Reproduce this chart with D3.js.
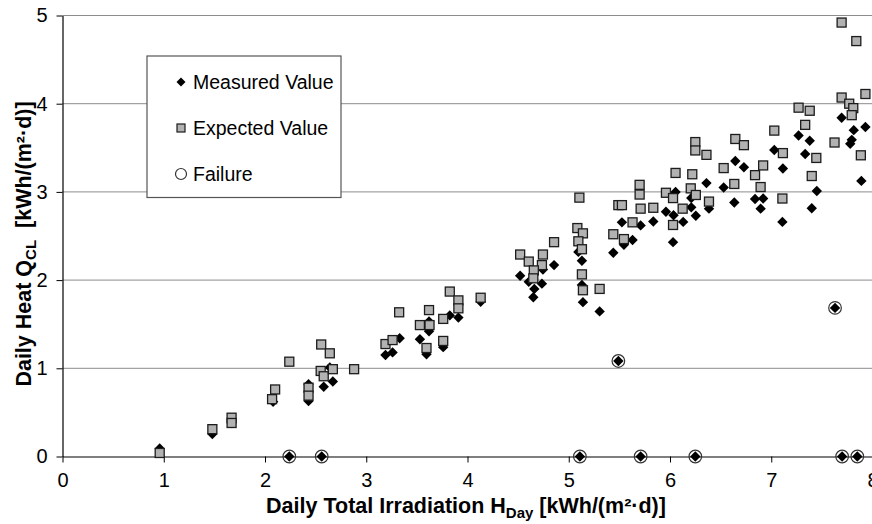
<!DOCTYPE html>
<html>
<head>
<meta charset="utf-8">
<script src="https://cdn.jsdelivr.net/npm/d3@7"></script>
<style>
  body { margin: 0; background: #fff; }
  text { font-family: "Liberation Sans", Arial, sans-serif; }
</style>
</head>
<body>
<script>
// values: [irradiation, daily heat]
const measured = [
  [0.96, 0.09], [1.48, 0.255], [1.67, 0.38], [2.08, 0.62], [2.43, 0.82], [2.43, 0.63],
  [2.58, 0.79], [2.67, 0.85], [2.64, 1.01], [3.19, 1.15], [3.26, 1.18], [3.33, 1.34],
  [3.53, 1.33], [3.62, 1.53], [3.62, 1.42], [3.595, 1.16], [3.76, 1.24], [3.825, 1.60],
  [3.91, 1.575], [4.13, 1.755], [4.52, 2.05], [4.605, 1.98], [4.66, 1.90], [4.65, 1.805],
  [4.735, 1.96], [4.745, 2.12], [4.855, 2.17], [5.095, 2.32], [5.13, 2.22], [5.13, 1.945],
  [5.14, 1.75], [5.305, 1.645], [5.44, 2.31], [5.525, 2.655], [5.545, 2.40], [5.63, 2.455],
  [5.71, 2.62], [5.835, 2.665], [5.96, 2.775], [6.055, 3.0], [6.035, 2.735], [6.03, 2.43],
  [6.13, 2.66], [6.21, 2.93], [6.21, 2.825], [6.255, 2.73], [6.36, 3.10], [6.385, 2.81],
  [6.53, 3.05], [6.635, 2.88], [6.645, 3.35], [6.73, 3.28], [6.84, 2.92], [6.92, 2.925],
  [6.895, 2.81], [7.11, 2.66], [7.03, 3.475], [7.115, 3.265], [7.27, 3.64], [7.38, 3.58],
  [7.335, 3.43], [7.45, 3.01], [7.40, 2.815], [7.695, 3.84], [7.815, 3.70], [7.93, 3.735],
  [7.795, 3.59], [7.78, 3.545], [7.89, 3.125],
  [2.24, 0], [2.56, 0], [5.11, 0], [5.71, 0], [6.25, 0], [7.70, 0], [7.85, 0],
  [5.49, 1.083], [7.63, 1.685]
]

const expected = [
  [0.96, 0.04], [1.48, 0.31], [1.67, 0.44], [1.67, 0.38], [2.24, 1.075], [2.10, 0.76],
  [2.07, 0.65], [2.43, 0.78], [2.43, 0.69], [2.555, 1.27], [2.64, 1.17], [2.55, 0.97],
  [2.58, 0.91], [2.67, 0.99], [2.88, 0.99], [3.19, 1.275], [3.26, 1.32], [3.325, 1.635],
  [3.62, 1.66], [3.53, 1.49], [3.625, 1.49], [3.595, 1.23], [3.76, 1.56], [3.825, 1.87],
  [3.91, 1.77], [3.91, 1.68], [3.76, 1.31], [4.13, 1.80], [4.52, 2.29], [4.605, 2.21],
  [4.745, 2.29], [4.735, 2.17], [4.655, 2.11], [4.65, 2.02], [4.855, 2.43], [5.105, 2.935],
  [5.085, 2.59], [5.14, 2.53], [5.095, 2.44], [5.13, 2.35], [5.13, 2.065], [5.14, 1.885],
  [5.305, 1.90], [5.44, 2.52], [5.49, 2.85], [5.525, 2.85], [5.545, 2.465], [5.63, 2.655],
  [5.70, 3.08], [5.70, 2.97], [5.71, 2.81], [5.835, 2.82], [5.96, 2.99], [6.03, 2.93],
  [6.055, 3.215], [6.03, 2.625], [6.125, 2.81], [6.22, 3.20], [6.205, 3.04], [6.255, 2.965],
  [6.25, 3.565], [6.25, 3.47], [6.36, 3.42], [6.385, 2.89], [6.53, 3.27], [6.635, 3.09],
  [6.645, 3.60], [6.73, 3.53], [6.84, 3.19], [6.92, 3.30], [6.895, 3.055], [7.11, 2.925],
  [7.03, 3.695], [7.115, 3.44], [7.27, 3.955], [7.38, 3.92], [7.335, 3.76], [7.445, 3.385],
  [7.40, 3.18], [7.625, 3.56], [7.695, 4.07], [7.77, 4.00], [7.81, 3.95], [7.795, 3.87],
  [7.93, 4.11], [7.885, 3.415], [7.695, 4.92], [7.84, 4.71]
]

const failure = [
  [2.24, 0], [2.56, 0], [5.11, 0], [5.71, 0], [6.25, 0], [7.70, 0], [7.85, 0],
  [5.49, 1.083], [7.63, 1.685]
]

const xTicks = [0, 1, 2, 3, 4, 5, 6, 7, 8]
const yTicks = [0, 1, 2, 3, 4, 5]
const legendLabels = ['Measured Value', 'Expected Value', 'Failure']

const m = {
  width: 872,
  height: 524,
  left: 62.5,
  right: 872.5,
  top: 15.5,
  bottom: 456.5
}

const svg = d3.select('body').append('svg')
  .attr('width', m.width)
  .attr('height', m.height)

const x = d3.scaleLinear().domain([0, 8]).range([m.left, m.right])
const y = d3.scaleLinear().domain([0, 5]).range([m.bottom, m.top])

const diamond = 'M0,-5.2L5.2,0L0,5.2L-5.2,0Z'

// horizontal gridlines
svg.append('g')
  .selectAll('line')
  .data(yTicks.filter(d => d > 0))
  .enter()
  .append('line')
    .attr('x1', m.left)
    .attr('x2', m.width)
    .attr('y1', d => y(d))
    .attr('y2', d => y(d))
    .attr('stroke', '#8c8c8c')
    .attr('stroke-width', 1)

// axes
svg.append('g')
  .attr('transform', `translate(${m.left},0)`)
  .call(d3.axisLeft(y).tickValues(yTicks).tickFormat(d3.format('d'))
    .tickSize(6).tickSizeOuter(0).tickPadding(9))

svg.append('g')
  .attr('transform', `translate(0,${m.bottom})`)
  .call(d3.axisBottom(x).tickValues(xTicks).tickFormat(d3.format('d'))
    .tickSize(6).tickSizeOuter(0).tickPadding(10))

svg.selectAll('.domain').attr('stroke', '#000').attr('stroke-width', 1.2)
svg.selectAll('.tick line').attr('stroke', '#000')
svg.selectAll('.tick text')
  .attr('fill', '#000')
  .style('font-size', '20px')
  .style('font-family', '"Liberation Sans", Arial, sans-serif')

// measured values
svg.append('g')
  .selectAll('path')
  .data(measured)
  .enter()
  .append('path')
    .attr('d', diamond)
    .attr('transform', d => `translate(${x(d[0])},${y(d[1])})`)
    .attr('fill', '#000')

// expected values
svg.append('g')
  .selectAll('rect')
  .data(expected)
  .enter()
  .append('rect')
    .attr('x', d => x(d[0]) - 4.5)
    .attr('y', d => y(d[1]) - 4.5)
    .attr('width', 9)
    .attr('height', 9)
    .attr('fill', '#b2b2b2')
    .attr('stroke', '#1c1c1c')
    .attr('stroke-width', 1.3)

// failures
svg.append('g')
  .selectAll('circle')
  .data(failure)
  .enter()
  .append('circle')
    .attr('cx', d => x(d[0]))
    .attr('cy', d => y(d[1]))
    .attr('r', 6.3)
    .attr('fill', 'none')
    .attr('stroke', '#333')
    .attr('stroke-width', 1.2)

// legend
const legend = svg.append('g')
legend.append('rect')
  .attr('x', 147)
  .attr('y', 56)
  .attr('width', 194)
  .attr('height', 141.5)
  .attr('fill', '#fff')
  .attr('stroke', '#555')
  .attr('stroke-width', 1.2)

const item = legend.selectAll('.item')
  .data(legendLabels)
  .enter()
  .append('g')
    .attr('class', 'item')
    .attr('transform', (d, i) => `translate(181,${82 + i * 46})`)

item.append('text')
  .attr('x', 12)
  .attr('y', 7)
  .style('font-size', '19.5px')
  .text(d => d)

item.filter((d, i) => i === 0).append('path')
  .attr('d', 'M0,-4.5L4.5,0L0,4.5L-4.5,0Z')
  .attr('fill', '#000')
item.filter((d, i) => i === 1).append('rect')
  .attr('x', -4).attr('y', -4).attr('width', 8).attr('height', 8)
  .attr('fill', '#b2b2b2').attr('stroke', '#1c1c1c').attr('stroke-width', 1.2)
item.filter((d, i) => i === 2).append('circle')
  .attr('r', 5.5).attr('fill', '#fff').attr('stroke', '#333').attr('stroke-width', 1.2)

// axis titles
const xTitle = svg.append('text')
  .attr('x', 466)
  .attr('y', 513)
  .attr('text-anchor', 'middle')
  .style('font-size', '21.5px')
  .style('font-weight', 'bold')
xTitle.append('tspan').text('Daily Total Irradiation H')
xTitle.append('tspan').attr('dy', 5).style('font-size', '15px').text('Day')
xTitle.append('tspan').attr('dy', -5).text(' [kWh/(m²·d)]')

const yTitle = svg.append('text')
  .attr('transform', 'translate(31,244) rotate(-90)')
  .attr('text-anchor', 'middle')
  .attr('xml:space', 'preserve')
  .style('font-size', '21.5px')
  .style('font-weight', 'bold')
yTitle.append('tspan').text('Daily Heat Q')
yTitle.append('tspan').attr('dy', 5).style('font-size', '15px').text('CL')
yTitle.append('tspan').attr('dy', -5).text('  [kWh/(m²·d)]')
</script>
</body>
</html>
